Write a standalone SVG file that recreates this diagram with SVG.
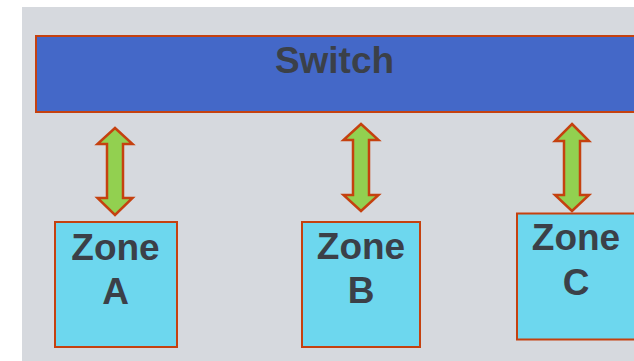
<svg xmlns="http://www.w3.org/2000/svg" width="634" height="361" viewBox="0 0 634 361">
<style>
.box{stroke:#C5410F;stroke-width:2}
.zone{fill:#6DD7EE}
.arr{fill:#92D050;stroke:#C5410F;stroke-width:2.5;stroke-linejoin:miter}
.t{font-family:"Liberation Sans",Arial,sans-serif;font-weight:bold;font-size:37px;fill:#3B4048;text-anchor:middle}
</style>
<rect x="0" y="0" width="634" height="361" fill="#ffffff"/>
<rect x="22" y="7" width="612" height="354" fill="#D6D9DE"/>
<g id="switch">
<rect class="box" x="36" y="36" width="600" height="76" fill="#4468C8"/>
<text class="t" x="334.5" y="73">Switch</text>
</g>
<g id="connectors">
<polygon class="arr" points="115,128 132.5,144 123,144 123,198 132.5,198 115,215 97.5,198 107,198 107,144 97.5,144"/>
<polygon class="arr" points="361,124 378.5,140 369,140 369,195 378.5,195 361,211 343.5,195 353,195 353,140 343.5,140"/>
<polygon class="arr" points="572,124 589,141 580,141 580,195 589,195 572,211 555,195 564,195 564,141 555,141"/>
</g>
<g id="zoneA">
<rect class="box zone" x="55" y="222" width="122" height="125"/>
<text class="t" x="115.5" y="259.5">Zone</text>
<text class="t" x="115.5" y="303.5">A</text>
</g>
<g id="zoneB">
<rect class="box zone" x="302" y="222" width="118" height="125"/>
<text class="t" x="361" y="258.5">Zone</text>
<text class="t" x="361" y="303">B</text>
</g>
<g id="zoneC">
<rect class="box zone" x="517" y="213.5" width="130" height="126"/>
<text class="t" x="576" y="249.5">Zone</text>
<text class="t" x="576" y="295">C</text>
</g>
</svg>
